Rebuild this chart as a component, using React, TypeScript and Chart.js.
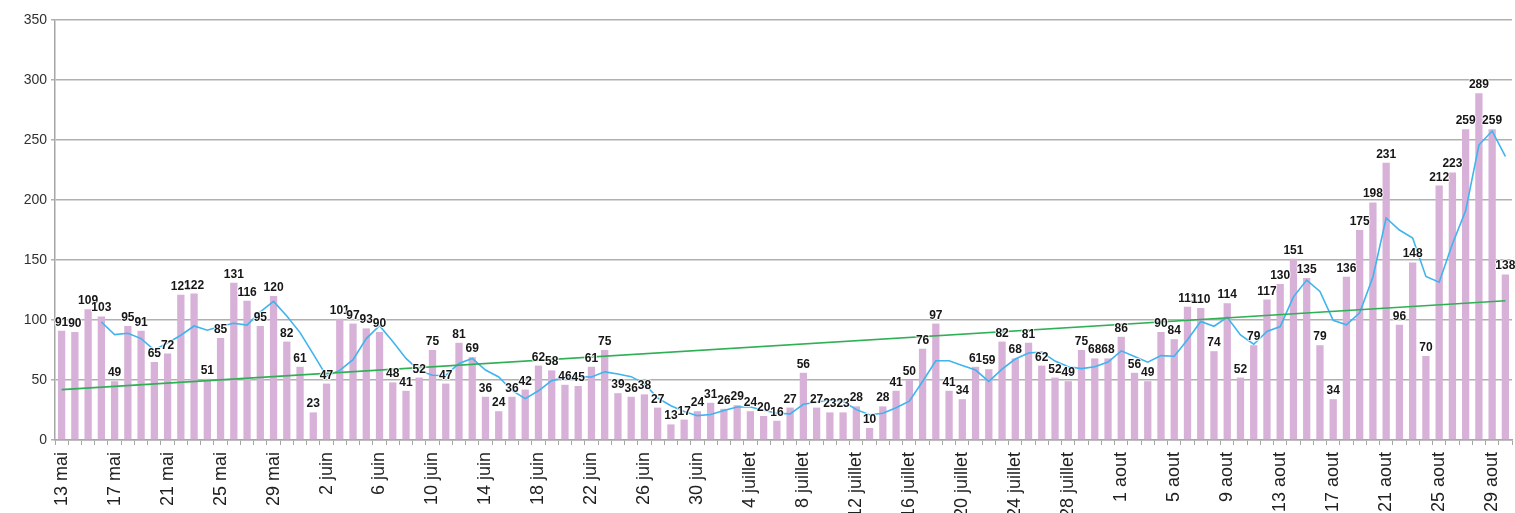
import React, { useEffect, useRef } from "react";
import { Chart, registerables } from "chart.js";

Chart.register(...registerables);

// Date spans: [month name, first day, last day]
const monthSpans: [string, number, number][] = [
  ["mai", 13, 31],
  ["juin", 1, 30],
  ["juillet", 1, 31],
  ["aout", 1, 30],
];
const categories: string[] = [];
monthSpans.forEach(([m, a, b]) => {
  for (let d = a; d <= b; d++) categories.push(`${d} ${m}`);
});

// Daily values (bars)
const cases: number[] = [
  91, 90, 109, 103, 49, 95, 91, 65, 72, 121, 122, 51, 85, 131, 116, 95, 120, 82, 61, 23,
  47, 101, 97, 93, 90, 48, 41, 52, 75, 47, 81, 69, 36, 24, 36, 42, 62, 58, 46, 45,
  61, 75, 39, 36, 38, 27, 13, 17, 24, 31, 26, 29, 24, 20, 16, 27, 56, 27, 23, 23,
  28, 10, 28, 41, 50, 76, 97, 41, 34, 61, 59, 82, 68, 81, 62, 52, 49, 75, 68, 68,
  86, 56, 49, 90, 84, 111, 110, 74, 114, 52, 79, 117, 130, 151, 135, 79, 34, 136, 175, 198,
  231, 96, 148, 70, 212, 223, 259, 289, 259, 138,
];

// Moving-average curve (blue)
const movingAvg: (number | null)[] = [
  null, null, null, 98.3, 87.8, 89, 84.5, 75, 80.8, 87.3, 95, 91.5, 94.8, 97.3, 95.8, 106.8,
  115.5, 103.3, 89.5, 71.5, 53.3, 58, 67, 84.5, 95.3, 82, 68, 57.8, 54, 53.8, 63.8, 68,
  58.3, 52.5, 41.3, 34.5, 41, 49.5, 52, 52.8, 52.5, 56.8, 55, 52.8, 47, 35, 28.5, 23.8,
  20.3, 21.3, 24.5, 27.5, 27.5, 24.8, 22.3, 21.8, 29.8, 31.5, 33.3, 32.3, 25.3, 21, 22.3, 26.8,
  32.3, 48.8, 66, 66, 62, 58.3, 48.8, 59, 67.5, 72.5, 73.3, 65.8, 61, 59.5, 61, 65,
  74.3, 69.5, 64.8, 70.3, 69.8, 83.5, 98.8, 94.8, 102.3, 87.5, 79.8, 90.5, 94.5, 119.3, 133.3, 123.8,
  99.8, 96, 106, 135.8, 185, 175, 168.3, 136.3, 131.5, 163.3, 191, 245.8, 257.5, 236.3,
];

// Linear trend (green): endpoints
const trendStart = 42;
const trendEnd = 116;
const trend: (number | null)[] = categories.map((_, i) =>
  i === 0 ? trendStart : i === categories.length - 1 ? trendEnd : null
);

const yMin = 0;
const yMax = 350;
const yStep = 50;

const FONT = '"Liberation Sans", Arial, Helvetica, sans-serif';

const valueLabels = {
  id: "valueLabels",
  afterDatasetsDraw(chart: any) {
    const meta = chart.getDatasetMeta(0);
    const ctx = chart.ctx;
    ctx.save();
    ctx.font = `bold 12px ${FONT}`;
    ctx.textAlign = "center";
    ctx.textBaseline = "alphabetic";
    ctx.lineJoin = "round";
    meta.data.forEach((el: any, i: number) => {
      const t = String(cases[i]);
      ctx.lineWidth = 2;
      ctx.strokeStyle = "rgba(255,255,255,0.75)";
      ctx.strokeText(t, el.x, el.y - 5);
      ctx.fillStyle = "#161616";
      ctx.fillText(t, el.x, el.y - 5);
    });
    ctx.restore();
  },
};

export default function App() {
  const ref = useRef<HTMLCanvasElement | null>(null);

  useEffect(() => {
    if (!ref.current) return;
    const chart = new Chart(ref.current, {
      type: "bar",
      data: {
        labels: categories,
        datasets: [
          {
            type: "bar",
            data: cases,
            backgroundColor: "#d7b1d7",
            borderWidth: 0,
            barPercentage: 0.55,
            categoryPercentage: 1,
            order: 3,
          } as any,
          {
            type: "line",
            data: movingAvg,
            borderColor: "#3fb4ee",
            borderWidth: 1.6,
            pointRadius: 0,
            tension: 0,
            fill: false,
            order: 2,
          } as any,
          {
            type: "line",
            data: trend,
            borderColor: "#2fb055",
            borderWidth: 1.6,
            pointRadius: 0,
            spanGaps: true,
            fill: false,
            order: 1,
          } as any,
        ],
      },
      options: {
        responsive: false,
        animation: false,
        layout: { padding: { top: 20, right: 3, left: 0, bottom: 0 } },
        plugins: {
          legend: { display: false },
          tooltip: { enabled: false },
        },
        scales: {
          x: {
            grid: {
              display: true,
              drawOnChartArea: false,
              drawTicks: true,
              tickLength: 5,
              color: "#a6a6a6",
              offset: true,
            },
            border: { color: "#a6a6a6", width: 1.5 },
            ticks: {
              autoSkip: false,
              minRotation: 90,
              maxRotation: 90,
              padding: 7,
              color: "#202020",
              font: { family: FONT, size: 18 },
              callback: function (this: any, value: any, index: number) {
                return index % 4 === 0 ? categories[index] : "";
              },
            },
            afterFit: (scale: any) => {
              scale.height = 73;
              scale.paddingLeft = 0;
              scale.paddingRight = 0;
            },
          },
          y: {
            min: yMin,
            max: yMax,
            ticks: {
              stepSize: yStep,
              padding: 4,
              color: "#303030",
              font: { family: FONT, size: 14 },
            },
            grid: {
              color: "#b0b0b0",
              lineWidth: 1.5,
              drawTicks: true,
              tickLength: 4,
            },
            border: { color: "#a6a6a6", width: 1.5 },
            afterFit: (scale: any) => {
              scale.width = 55;
            },
          },
        },
      },
      plugins: [valueLabels],
    });
    return () => chart.destroy();
  }, []);

  return (
    <div style={{ position: "absolute", left: 0, top: 0, width: 1515, height: 513, overflow: "hidden", background: "#fff" }}>
      <canvas ref={ref} width={1515} height={513} />
    </div>
  );
}
